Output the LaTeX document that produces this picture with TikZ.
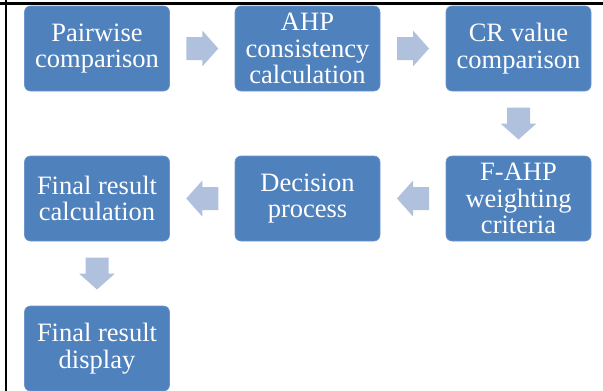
\documentclass[tikz,border=0pt]{standalone}
\usepackage{fontspec}
\setmainfont{Liberation Serif}
\usetikzlibrary{calc}
\definecolor{boxblue}{RGB}{79,129,189}
\definecolor{boxedge}{RGB}{108,148,204}
\definecolor{arrowfill}{RGB}{176,193,222}
\begin{document}
\begin{tikzpicture}[x=1pt,y=-1pt,
  stepbox/.style={rectangle, rounded corners=6pt, fill=boxblue, draw=boxedge, line width=0.6pt,
    minimum width=145pt, minimum height=85pt, text=white, inner sep=0pt,
    font=\fontsize{26.5}{26.5}\selectfont, align=center},
  flowarrow/.pic={\fill[arrowfill] (-16,-11.5) -- (0,-11.5) -- (0,-18) -- (16,0) -- (0,18) -- (0,11.5) -- (-16,11.5) -- cycle;}
]
\useasboundingbox (0,0) rectangle (603,391);
\draw[line width=2.2pt] (0,3.5) -- (603,3.5);
\draw[line width=2.2pt] (6,0) -- (6,391);

\node[stepbox] (b1) at (97,48.5) {Pairwise\\comparison};
\node[stepbox] (b2) at (307.5,48.5) {AHP\\consistency\\calculation};
\node[stepbox] (b3) at (518.5,48.5) {CR value\\comparison};
\node[stepbox] (b4) at (518.5,198.5) {F-AHP\\weighting\\criteria};
\node[stepbox] (b5) at (307.5,198.5) {Decision\\process};
\node[stepbox] (b6) at (97,198.5) {Final result\\calculation};
\node[stepbox] (b7) at (97,348.5) {Final result\\display};

\pic at ($(b1.east)!0.5!(b2.west)$) {flowarrow};
\pic at ($(b2.east)!0.5!(b3.west)$) {flowarrow};
\pic[rotate=-90] at ($(b3.south)!0.5!(b4.north)$) {flowarrow};
\pic[rotate=180] at ($(b4.west)!0.5!(b5.east)$) {flowarrow};
\pic[rotate=180] at ($(b5.west)!0.5!(b6.east)$) {flowarrow};
\pic[rotate=-90] at ($(b6.south)!0.5!(b7.north)$) {flowarrow};
\end{tikzpicture}
\end{document}
